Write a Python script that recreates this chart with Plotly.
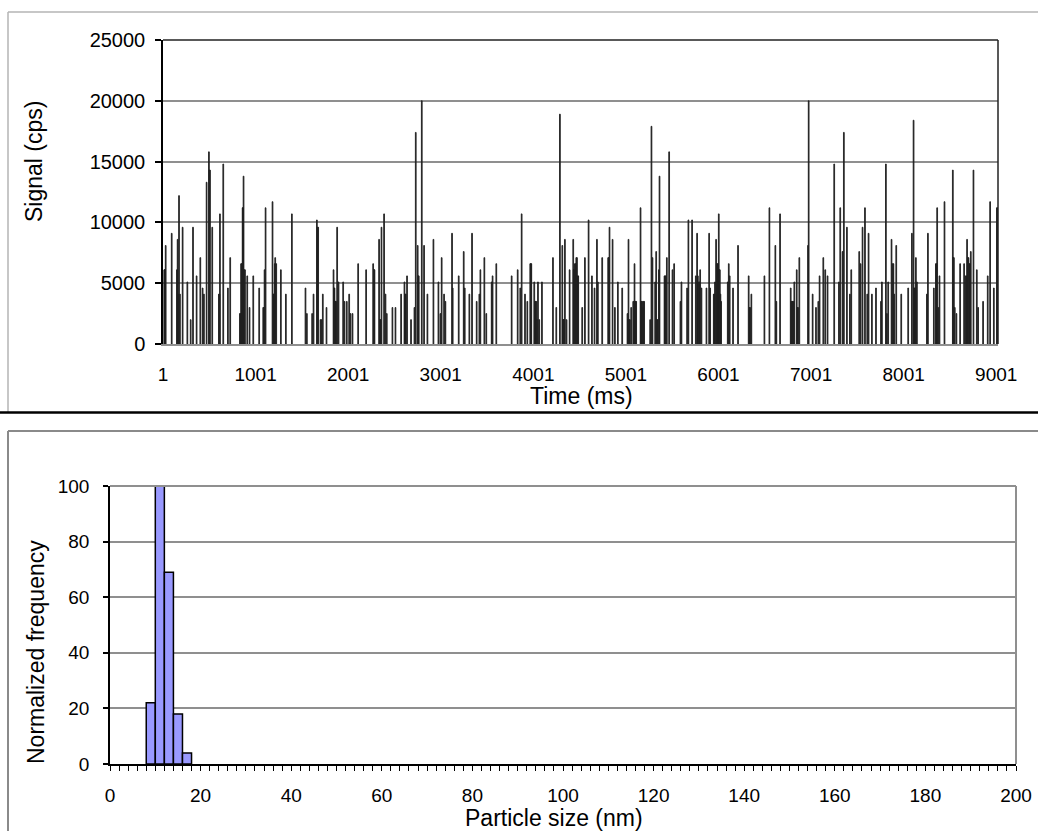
import plotly.graph_objects as go

# ---------------- data ----------------
# Top panel: single-particle spikes (time in ms, signal in cps); zero elsewhere
spike_time = [
    15, 19, 24, 30, 95, 152, 156, 159, 164, 174, 184, 213, 264, 300, 325, 364, 404, 429, 443,
    472, 497, 502, 508, 533, 605, 610, 616, 652, 702, 727, 832, 838, 845, 850, 856, 861, 866,
    871, 879, 886, 911, 936, 976, 1040, 1084, 1090, 1098, 1109, 1184, 1194, 1199, 1208, 1213,
    1224, 1274, 1328, 1393,
    1540, 1555, 1612, 1627, 1663, 1670, 1677, 1702, 1713, 1727, 1767, 1843, 1848, 1853, 1858,
    1864, 1870, 1882, 1897, 1947, 1961, 1986, 2012, 2026, 2048, 2109, 2195, 2271, 2280, 2285,
    2335, 2345, 2350, 2361, 2389, 2404, 2418, 2479, 2512, 2573, 2609, 2616, 2623, 2637, 2680,
    2717, 2731, 2752, 2758, 2763, 2796, 2821, 2857, 2922, 2976, 2997, 3011,
    3037, 3051, 3123, 3130, 3195, 3249, 3260, 3310, 3339, 3389, 3418, 3429, 3472, 3493, 3551,
    3561, 3601, 3767, 3832, 3860, 3875, 3911, 3936, 3968, 3974, 3979, 4011, 4020, 4026, 4032,
    4040, 4051, 4065, 4094, 4213, 4249, 4288, 4314, 4320, 4324, 4330, 4336, 4342, 4360, 4393,
    4432, 4437, 4443, 4450, 4457, 4465, 4472, 4480, 4486,
    4529, 4558, 4598, 4634, 4662, 4688, 4698, 4745, 4810, 4815, 4824, 4857, 4882, 4914, 4961,
    5018, 5024, 5029, 5036, 5044, 5058, 5080, 5087, 5094, 5100, 5106, 5112, 5159, 5165, 5170,
    5177, 5184, 5191, 5198, 5263, 5277, 5288, 5317, 5328, 5336, 5342, 5357, 5364, 5418, 5425,
    5432, 5443, 5468, 5504, 5522, 5590, 5601, 5662, 5676, 5716, 5756, 5770, 5778, 5788, 5795,
    5803, 5817, 5871, 5900, 5911, 5950, 5957, 5963, 5975, 5982, 5990, 5997, 6004, 6010, 6015,
    6022, 6029,
    6101, 6112, 6122, 6158, 6212, 6327, 6337, 6342, 6356, 6497, 6551, 6615, 6626, 6666, 6781,
    6788, 6795, 6802, 6810, 6820, 6846, 6853, 6860, 6874, 6968, 6975, 7018, 7054, 7079, 7093,
    7133, 7154, 7179, 7251, 7302, 7316, 7341, 7355, 7388, 7420, 7435, 7521, 7536,
    7557, 7583, 7608, 7622, 7658, 7702, 7756, 7766, 7809, 7820, 7834, 7870, 7881, 7890, 7899,
    7921, 7975, 8050, 8090, 8108, 8114, 8119, 8126, 8133, 8144, 8252, 8263, 8327, 8349, 8356,
    8363, 8374, 8388, 8442, 8532, 8537, 8543, 8553, 8571, 8611, 8654, 8670, 8679, 8686, 8693,
    8701, 8711, 8718, 8726, 8755, 8791, 8805, 8859, 8909, 8935, 8975, 9008, 9014,
]
spike_signal = [
    6100, 6100, 6100, 8100, 9100, 6100, 6100, 8600, 4100, 12200, 4100, 9600, 5100, 2000, 9600, 5600, 7100, 4600, 4100,
    13300, 15800, 14300, 14300, 9600, 4100, 4100, 10700, 14800, 4600, 7100, 2500, 2500, 6600, 6600, 6100, 11200, 11200,
    13800, 6100, 6100, 5600, 3000, 5600, 4600, 3000, 3000, 6100, 11200, 11700, 4100, 4100, 6600, 7100,
    6600, 6100, 4100, 10700,
    4600, 2500, 2500, 4100, 10200, 9600, 9600, 2000, 2000, 4100, 3000, 6100, 4600, 4600, 3500,
    3500, 3500, 9600, 5100, 5100, 3500, 3500, 4100, 2500, 2500, 6600, 6100, 6600, 6100, 6100,
    8600, 2000, 2000, 9600, 10700, 4100, 2500, 3000, 3000, 4100, 5100, 4100, 4100, 5600, 2000,
    3000, 17400, 8100, 5600, 5600, 20000, 8100, 4100, 8600, 5100, 2500, 7100,
    4100, 3500, 9100, 4600, 5600, 7600, 4600, 4100, 9100, 3500, 4100, 6100, 7100, 2500, 5100,
    5600, 6600, 5600, 6100, 4600, 10700, 4100, 3500, 6600, 6600, 6600, 5100, 3500, 3500, 3500,
    2000, 5100, 2000, 5100, 7100, 3000, 18900, 8100, 2000, 2000, 2000, 2000, 8600, 2000, 6100,
    8600, 6100, 6100, 6600, 6600, 7100, 7100, 5600, 5600,
    3000, 7100, 10200, 5600, 4600, 8600, 5100, 7100, 7100, 7100, 9600, 8600, 3000, 5100, 4600,
    2500, 2000, 8600, 2000, 2000, 3000, 3500, 3500, 6600, 3500, 3500, 3500, 11200, 3500, 3500,
    3500, 3000, 3500, 3500, 2000, 17900, 7100, 5100, 7600, 2000, 2000, 6100, 13800, 5600, 5600,
    5600, 7100, 15800, 6100, 6600, 3500, 5100, 4600, 10200, 10200, 5600, 9100, 5600, 5100, 5100,
    6100, 4600, 4600, 9100, 4600, 4100, 4100, 5100, 8600, 6600, 6600, 6600, 10700, 6100, 6100,
    4100, 3500,
    5100, 6600, 5600, 4600, 8100, 5600, 3000, 3000, 4100, 5600, 11200, 8100, 3500, 10700, 4600,
    3500, 3500, 3500, 3500, 5100, 6100, 3000, 3000, 7100, 8100, 20000, 4100, 3000, 3500, 5600,
    7100, 6100, 5600, 14800, 5100, 11200, 7600, 17400, 9600, 4100, 6100, 7600, 6600,
    9600, 11200, 4100, 9100, 4100, 4600, 3500, 5100, 14800, 2500, 5100, 8600, 6600, 6600, 4100,
    8100, 4100, 4600, 9100, 18400, 4600, 4600, 4600, 7100, 5100, 4100, 9100, 4600, 6600, 6600,
    11200, 3000, 5600, 11700, 14300, 7100, 7100, 3000, 2500, 6600, 6600, 5600, 5600, 8600, 7100,
    7100, 6600, 6600, 7600, 14300, 6100, 3000, 3500, 5600, 11700, 4600, 11200, 11200,
]
time_ticks = [1, 1001, 2001, 3001, 4001, 5001, 6001, 7001, 8001, 9001]
signal_ticks = [0, 5000, 10000, 15000, 20000, 25000]

# Bottom panel: particle size distribution (2 nm bins)
size_bin_center = [9, 11, 13, 15, 17]
size_frequency = [22, 100, 69, 18, 4]
size_ticks = [0, 20, 40, 60, 80, 100, 120, 140, 160, 180, 200]
freq_ticks = [0, 20, 40, 60, 80, 100]

# ---------------- figure ----------------
W, H = 1038, 831
FONT = "Liberation Sans, Arial, sans-serif"
GRID = "#8f8f8f"

def px_x(p):
    return p / W

def px_y(p):
    return 1 - p / H

fig = go.Figure()

fig.add_trace(go.Bar(
    x=spike_time, y=spike_signal, width=8,
    marker=dict(color="#111111", line=dict(color="#222222", width=0.9)),
    xaxis="x", yaxis="y", showlegend=False, hoverinfo="x+y",
))

fig.add_trace(go.Bar(
    x=size_bin_center, y=size_frequency, width=2,
    marker=dict(color="#9999FF", line=dict(color="black", width=1.5)),
    xaxis="x2", yaxis="y2", showlegend=False,
))

# plot areas (pixel positions)
top_l, top_r, top_t, top_b = 163, 998, 40, 344
bot_l, bot_r, bot_t, bot_b = 110, 1016, 486, 764

fig.update_layout(
    width=W, height=H, autosize=False,
    margin=dict(l=0, r=0, t=0, b=0, pad=0, autoexpand=False),
    paper_bgcolor="white", plot_bgcolor="white",
    font=dict(family=FONT, size=18, color="black"),
    showlegend=False,
    xaxis=dict(
        domain=[px_x(top_l), px_x(top_r)], anchor="y", automargin=False,
        range=[1, 9020], tickmode="array", tickvals=time_ticks,
        ticktext=[str(v) for v in time_ticks],
        showgrid=False, zeroline=False,
        showline=True, linecolor=GRID, linewidth=1.5,
        ticks="", ticklabelstandoff=12,
        tickfont=dict(size=19),
    ),
    yaxis=dict(
        domain=[px_y(top_b), px_y(top_t)], anchor="x", automargin=False,
        range=[0, 25000], tickmode="array", tickvals=signal_ticks,
        ticktext=[str(v) for v in signal_ticks],
        showgrid=True, gridcolor=GRID, gridwidth=1.5, zeroline=False,
        showline=True, linecolor="black", linewidth=1.5,
        ticks="outside", ticklen=6, tickcolor="black", tickwidth=1.5,
        ticklabelstandoff=6,
        tickfont=dict(size=20),
    ),
    xaxis2=dict(
        domain=[px_x(bot_l), px_x(bot_r)], anchor="y2", automargin=False,
        range=[0, 200], tickmode="array", tickvals=size_ticks,
        showgrid=False, zeroline=False,
        showline=True, linecolor="black", linewidth=1.5,
        ticks="outside", ticklen=5, tickcolor="black", tickwidth=1,
        minor=dict(dtick=2, tick0=0, ticks="outside", ticklen=5, tickcolor="black", tickwidth=1, showgrid=False),
        ticklabelstandoff=8,
        tickfont=dict(size=19),
    ),
    yaxis2=dict(
        domain=[px_y(bot_b), px_y(bot_t)], anchor="x2", automargin=False,
        range=[0, 100], tickmode="array", tickvals=freq_ticks,
        showgrid=True, gridcolor=GRID, gridwidth=1.5, zeroline=False,
        showline=True, linecolor="black", linewidth=1.5,
        ticks="outside", ticklen=5, tickcolor="black", tickwidth=1.5,
        ticklabelstandoff=10,
        tickfont=dict(size=19),
    ),
)

shapes = []
# top panel plot-area border (top and right edges)
shapes.append(dict(type="line", xref="x domain", yref="y domain", x0=0, x1=1, y0=1, y1=1,
                   line=dict(color="#222222", width=1.5), layer="above"))
shapes.append(dict(type="line", xref="x domain", yref="y domain", x0=1, x1=1, y0=0, y1=1,
                   line=dict(color="#222222", width=1.5), layer="above"))
# bottom panel plot-area border (top and right edges)
shapes.append(dict(type="line", xref="x2 domain", yref="y2 domain", x0=0, x1=1, y0=1, y1=1,
                   line=dict(color=GRID, width=2), layer="above"))
shapes.append(dict(type="line", xref="x2 domain", yref="y2 domain", x0=1, x1=1, y0=0, y1=1,
                   line=dict(color=GRID, width=2), layer="above"))
# chart-area frames
shapes.append(dict(type="line", xref="paper", yref="paper", x0=px_x(8), x1=1, y0=px_y(12), y1=px_y(12),
                   line=dict(color="#b5b5b5", width=1.5)))
shapes.append(dict(type="line", xref="paper", yref="paper", x0=px_x(8), x1=px_x(8), y0=px_y(412), y1=px_y(12),
                   line=dict(color="#b5b5b5", width=1.5)))
shapes.append(dict(type="line", xref="paper", yref="paper", x0=0, x1=1, y0=px_y(412.5), y1=px_y(412.5),
                   line=dict(color="black", width=2.5)))
shapes.append(dict(type="line", xref="paper", yref="paper", x0=px_x(8), x1=1, y0=px_y(431), y1=px_y(431),
                   line=dict(color="#8a8a8a", width=2)))
shapes.append(dict(type="line", xref="paper", yref="paper", x0=px_x(8), x1=px_x(8), y0=0, y1=px_y(431),
                   line=dict(color="#8a8a8a", width=2)))
fig.update_layout(shapes=shapes)

TITLE_SIZE = 23
ann = []
ann.append(dict(text="Signal (cps)", xref="paper", yref="paper", x=px_x(34), y=px_y(162),
                textangle=-90, showarrow=False, font=dict(size=TITLE_SIZE), xanchor="center", yanchor="middle"))
ann.append(dict(text="Time (ms)", xref="paper", yref="paper", x=px_x(581), y=px_y(396),
                showarrow=False, font=dict(size=TITLE_SIZE), xanchor="center", yanchor="middle"))
ann.append(dict(text="Normalized frequency", xref="paper", yref="paper", x=px_x(36), y=px_y(652),
                textangle=-90, showarrow=False, font=dict(size=TITLE_SIZE), xanchor="center", yanchor="middle"))
ann.append(dict(text="Particle size (nm)", xref="paper", yref="paper", x=px_x(554), y=px_y(818),
                showarrow=False, font=dict(size=TITLE_SIZE), xanchor="center", yanchor="middle"))
fig.update_layout(annotations=ann)

# remove default page margins so the figure fills the window exactly
page_css = (
    "document.documentElement.style.margin='0';"
    "document.documentElement.style.padding='0';"
    "document.documentElement.style.overflow='hidden';"
    "document.body.style.margin='0';"
    "document.body.style.padding='0';"
    "document.body.style.overflow='hidden';"
)
fig.write_html("out.html", post_script=page_css, config={"displayModeBar": False})
